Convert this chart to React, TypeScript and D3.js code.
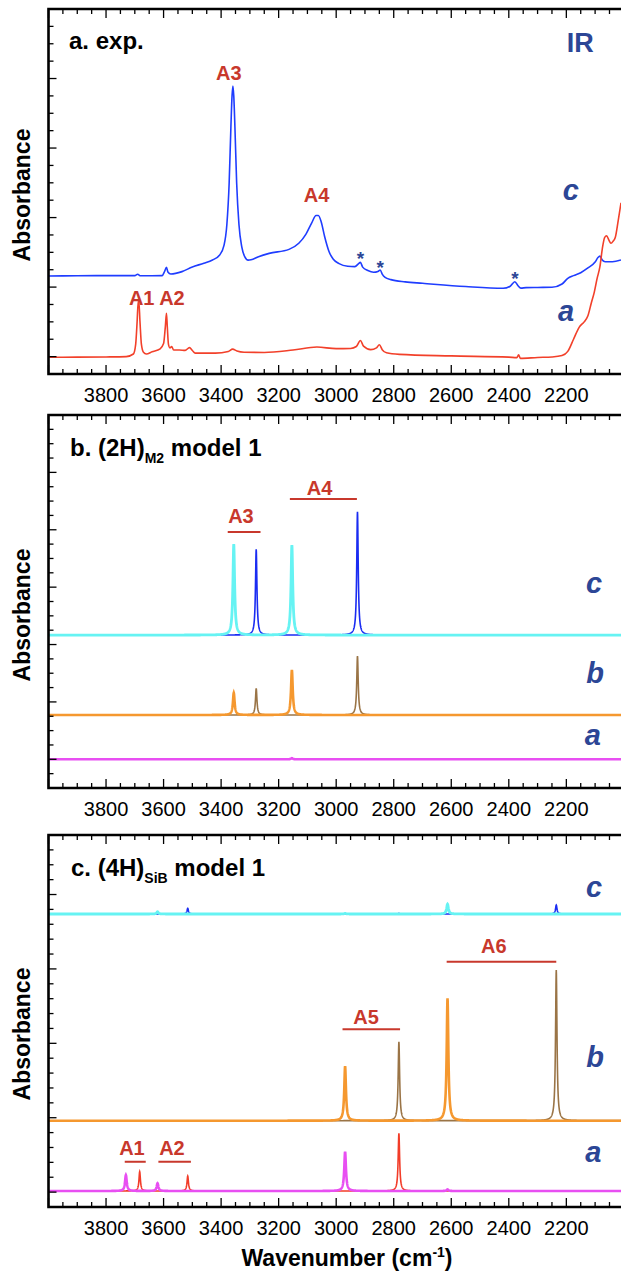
import React from "react";
import * as d3 from "d3";

const WIDTH = 621;
const HEIGHT = 1273;

// ---- x axis (wavenumber, cm-1) ----
const xMinorTicks = d3.range(4000, 2000, -50);
const xTickLabels = [3800, 3600, 3400, 3200, 3000, 2800, 2600, 2400, 2200];

// ---- Panel a: experimental IR spectra [wavenumber, absorbance] ----
const expC: [number, number][] = [
  [4000, 0.564], [3900, 0.565], [3800, 0.566], [3700, 0.566], [3690, 0.574], [3680, 0.565],
  [3605, 0.566], [3596, 0.592], [3590, 0.614], [3585, 0.587], [3575, 0.575], [3536, 0.589],
  [3500, 0.616], [3460, 0.637], [3430, 0.656], [3405, 0.685], [3390, 0.74], [3380, 0.86],
  [3372, 1.1], [3366, 1.42], [3362, 1.6], [3359, 1.657], [3356, 1.6], [3352, 1.42],
  [3346, 1.1], [3338, 0.86], [3328, 0.73], [3318, 0.675], [3306, 0.655], [3296, 0.657],
  [3270, 0.675], [3233, 0.694], [3164, 0.717], [3130, 0.752], [3105, 0.805], [3085, 0.87],
  [3070, 0.912], [3062, 0.912], [3052, 0.875], [3040, 0.79], [3025, 0.705], [3010, 0.66],
  [2990, 0.635], [2960, 0.62], [2935, 0.618], [2922, 0.635], [2916, 0.642], [2908, 0.615],
  [2890, 0.595], [2870, 0.585], [2855, 0.59], [2847, 0.598], [2840, 0.575], [2830, 0.556],
  [2810, 0.543], [2760, 0.53], [2700, 0.522], [2550, 0.503], [2420, 0.493], [2395, 0.505],
  [2379, 0.531], [2368, 0.508], [2358, 0.494], [2340, 0.497], [2300, 0.498], [2250, 0.499],
  [2215, 0.518], [2195, 0.55], [2175, 0.566], [2150, 0.583], [2125, 0.61], [2100, 0.644],
  [2090, 0.67], [2083, 0.678], [2075, 0.655], [2065, 0.646], [2040, 0.646], [2010, 0.656],
];

const expA: [number, number][] = [
  [4000, 0.096], [3900, 0.097], [3800, 0.098], [3730, 0.1], [3705, 0.115], [3697, 0.17],
  [3692, 0.3], [3688, 0.42], [3686, 0.42], [3682, 0.3], [3677, 0.17], [3670, 0.125],
  [3660, 0.115], [3640, 0.128], [3612, 0.145], [3600, 0.175], [3594, 0.27], [3590, 0.349],
  [3587, 0.27], [3583, 0.17], [3578, 0.15], [3572, 0.158], [3565, 0.138], [3545, 0.138],
  [3525, 0.136], [3510, 0.152], [3500, 0.135], [3490, 0.12], [3420, 0.12], [3375, 0.13],
  [3360, 0.143], [3345, 0.132], [3320, 0.125], [3250, 0.124], [3150, 0.138], [3067, 0.155],
  [3000, 0.146], [2950, 0.147], [2930, 0.158], [2916, 0.193], [2905, 0.16], [2880, 0.14],
  [2860, 0.15], [2850, 0.168], [2840, 0.14], [2825, 0.122], [2780, 0.113], [2600, 0.104],
  [2400, 0.097], [2372, 0.094], [2366, 0.11], [2360, 0.09], [2300, 0.095], [2250, 0.098],
  [2215, 0.106], [2195, 0.13], [2175, 0.2], [2155, 0.27], [2138, 0.3], [2125, 0.335],
  [2113, 0.41], [2103, 0.47], [2093, 0.55], [2083, 0.62], [2075, 0.72], [2067, 0.785],
  [2060, 0.795], [2052, 0.77], [2045, 0.752], [2037, 0.765], [2030, 0.785], [2020, 0.88],
  [2010, 0.985],
];

const starMarks: [number, number][] = [[2916, 0.685], [2847, 0.633], [2379, 0.57]];

// ---- Panel b: (2H)M2 model 1, computed peaks [wavenumber, height] ----
const bBaseC = 1.066;
const bBaseB = 0.509;
const bBaseA = 0.2;
const bCyanPeaks: [number, number][] = [[3356, 0.634], [3154, 0.627]];
const bBluePeaks: [number, number][] = [[3278, 0.598], [2926, 0.86]];
const bOrangePeaks: [number, number][] = [[3356, 0.155], [3154, 0.314]];
const bBrownPeaks: [number, number][] = [[3278, 0.186], [2926, 0.411]];
const bMagentaPeaks: [number, number][] = [[3154, 0.008]];

// ---- Panel c: (4H)SiB model 1, computed peaks [wavenumber, height] ----
const cBaseC = 1.969;
const cBaseB = 0.58;
const cBaseA = 0.1075;
const cCyanPeaks: [number, number][] = [[3621, 0.015], [2969, 0.004], [2613, 0.067]];
const cBluePeaks: [number, number][] = [[3516, 0.038], [2782, 0.004], [2235, 0.06]];
const cOrangePeaks: [number, number][] = [[2969, 0.367], [2613, 0.822]];
const cBrownPeaks: [number, number][] = [[2782, 0.53], [2235, 1.013]];
const cMagentaPeaks: [number, number][] = [[3731, 0.1075], [3621, 0.052], [2969, 0.264], [2613, 0.011]];
const cRedPeaks: [number, number][] = [[3683, 0.13], [3516, 0.1], [2782, 0.388]];

// ---- annotations [text, wavenumber, absorbance] ----
const aPeakLabels: [string, number, number][] = [
  ["A3", 3373, 1.692], ["A4", 3068, 0.99], ["A1", 3676, 0.397], ["A2", 3571, 0.397],
];
const aCurveLabels: [string, number, number][] = [["c", 2184, 1.001], ["a", 2201, 0.305]];

const bPeakLabels: [string, number, number][] = [["A3", 3331, 1.847], ["A4", 3058, 2.042]];
const bBars: [number, number, number][] = [[3377, 3263, 1.784], [3161, 2928, 2.014]];
const bCurveLabels: [string, number, number][] = [["c", 2104, 1.359], ["b", 2100, 0.732], ["a", 2108, 0.3]];

const cPeakLabels: [string, number, number][] = [
  ["A6", 2452, 1.707], ["A5", 2896, 1.23], ["A1", 3710, 0.349], ["A2", 3571, 0.349],
];
const cBars: [number, number, number][] = [
  [2616, 2235, 1.649], [2978, 2778, 1.194], [3735, 3662, 0.304], [3618, 3505, 0.304],
];
const cCurveLabels: [string, number, number][] = [["c", 2104, 2.083], ["b", 2100, 0.941], ["a", 2106, 0.302]];

const FONT = "'Liberation Sans', Arial, Helvetica, sans-serif";
const LABEL_RED = "#c8382c";
const NAVY = "#2c4696";

const grid = d3.range(4000, 2009.75, -0.5);
function broadened(base: number, peaks: [number, number][], gamma: number): [number, number][] {
  return grid.map((w) => [
    w,
    base + d3.sum(peaks, ([c, h]) => h / (1 + ((w - c) / gamma) ** 2)),
  ]);
}

type Panel = { top: number; bottom: number; yMax: number; majors: number[] };
const panels: Panel[] = [
  { top: 9, bottom: 374, yMax: 2.1, majors: [4, 8, 12, 16, 20] },
  { top: 415, bottom: 788, yMax: 2.6, majors: [4, 8, 12, 16, 20, 24] },
  { top: 835, bottom: 1207, yMax: 2.5, majors: [4, 9, 14, 19, 24] },
];

export default function App() {
  const x = d3.scaleLinear().domain([4000, 2010]).range([48.5, 621]);
  const ys = panels.map((p) => d3.scaleLinear().domain([0, p.yMax]).range([p.bottom, p.top]));

  const mkLine = (y: d3.ScaleLinear<number, number>, curve = d3.curveLinear) =>
    d3
      .line<[number, number]>()
      .x((d) => x(d[0]))
      .y((d) => y(d[1]))
      .curve(curve);

  const renderAxes = (p: Panel, i: number) => {
    const n = Math.round(p.yMax * 10);
    const y = ys[i];
    return (
      <g key={"ax" + i}>
        <path
          d={`M${WIDTH + 5},${p.top}H${x(4000)}V${p.bottom}H${WIDTH + 5}`}
          fill="none"
          stroke="#000"
          strokeWidth={2.6}
        />
        {xMinorTicks.map((t) => {
          const major = t % 200 === 0;
          const len = major ? 9 : 5;
          const xx = x(t);
          return (
            <g key={t}>
              <line x1={xx} x2={xx} y1={p.bottom} y2={p.bottom - len} stroke="#000" strokeWidth={1.3} />
              <line x1={xx} x2={xx} y1={p.top} y2={p.top + len} stroke="#000" strokeWidth={1.3} />
            </g>
          );
        })}
        {d3.range(1, n).map((k) => {
          const major = p.majors.includes(k);
          const yy = y(p.yMax - k * 0.1);
          return (
            <line key={k} x1={x(4000)} x2={x(4000) + (major ? 8 : 5)} y1={yy} y2={yy} stroke="#000" strokeWidth={1.3} />
          );
        })}
        {xTickLabels.map((t) => (
          <text key={t} x={x(t)} y={p.bottom + 28} textAnchor="middle" fontSize={20} fontFamily={FONT} fill="#000">
            {t}
          </text>
        ))}
      </g>
    );
  };

  const yA = ys[0];
  const yB = ys[1];
  const yC = ys[2];
  const lineA = mkLine(yA, d3.curveMonotoneX);
  const lineB = mkLine(yB);
  const lineC = mkLine(yC);

  const peakLabel = (arr: [string, number, number][], y: d3.ScaleLinear<number, number>, key: string) =>
    arr.map(([t, w, v], i) => (
      <text key={key + i} x={x(w)} y={y(v)} textAnchor="middle" fontSize={20} fontWeight="bold" fontFamily={FONT} fill={LABEL_RED}>
        {t}
      </text>
    ));
  const curveLabel = (arr: [string, number, number][], y: d3.ScaleLinear<number, number>, key: string) =>
    arr.map(([t, w, v], i) => (
      <text key={key + i} x={x(w)} y={y(v)} textAnchor="middle" fontSize={29} fontWeight="bold" fontStyle="italic" fontFamily={FONT} fill={NAVY}>
        {t}
      </text>
    ));
  const bars = (arr: [number, number, number][], y: d3.ScaleLinear<number, number>, key: string) =>
    arr.map(([w1, w2, v], i) => (
      <line key={key + i} x1={x(w1)} x2={x(w2)} y1={y(v)} y2={y(v)} stroke={LABEL_RED} strokeWidth={2} />
    ));

  return (
    <svg width={WIDTH} height={HEIGHT} style={{ position: "absolute", left: 0, top: 0, background: "#fff" }}>
      <defs>
        {panels.map((p, i) => (
          <clipPath id={"clip" + i} key={i}>
            <rect x={x(4000)} y={p.top} width={WIDTH - x(4000)} height={p.bottom - p.top} />
          </clipPath>
        ))}
      </defs>
      <rect width={WIDTH} height={HEIGHT} fill="#fff" />

      {/* Panel a */}
      <g clipPath="url(#clip0)">
        <path d={lineA(expC) || ""} fill="none" stroke="#1f3dff" strokeWidth={1.6} />
        <path d={lineA(expA) || ""} fill="none" stroke="#f2402a" strokeWidth={1.6} />
      </g>
      {starMarks.map(([w, v], i) => (
        <text key={"s" + i} x={x(w)} y={yA(v) + 10} textAnchor="middle" fontSize={19} fontWeight="bold" fontFamily={FONT} fill={NAVY}>
          *
        </text>
      ))}
      <text x={69} y={yA(1.87)} fontSize={24} fontWeight="bold" fontFamily={FONT} fill="#000">
        a. exp.
      </text>
      <text x={x(2152)} y={yA(1.853)} textAnchor="middle" fontSize={27} fontWeight="bold" fontFamily={FONT} fill={NAVY}>
        IR
      </text>
      {peakLabel(aPeakLabels, yA, "pa")}
      {curveLabel(aCurveLabels, yA, "ca")}

      {/* Panel b */}
      <g clipPath="url(#clip1)">
        <path d={lineB(broadened(bBaseA, bMagentaPeaks, 3.5)) || ""} fill="none" stroke="#e84ff2" strokeWidth={2.6} />
        <path d={lineB(broadened(bBaseB, bBrownPeaks, 3)) || ""} fill="none" stroke="#9a7446" strokeWidth={1.6} />
        <path d={lineB(broadened(bBaseB, bOrangePeaks, 3.5)) || ""} fill="none" stroke="#f5982f" strokeWidth={2.6} />
        <path d={lineB(broadened(bBaseC, bBluePeaks, 3)) || ""} fill="none" stroke="#1a2cf2" strokeWidth={1.6} />
        <path d={lineB(broadened(bBaseC, bCyanPeaks, 3.5)) || ""} fill="none" stroke="#66f3f3" strokeWidth={2.8} />
      </g>
      <text x={70} y={yB(2.314)} fontSize={24} fontWeight="bold" fontFamily={FONT} fill="#000">
        b. (2H)
        <tspan fontSize={14} dy={7}>M2</tspan>
        <tspan dy={-7}> model 1</tspan>
      </text>
      {peakLabel(bPeakLabels, yB, "pb")}
      {bars(bBars, yB, "bb")}
      {curveLabel(bCurveLabels, yB, "cb")}

      {/* Panel c */}
      <g clipPath="url(#clip2)">
        <path d={lineC(broadened(cBaseA, cRedPeaks, 3)) || ""} fill="none" stroke="#f23c28" strokeWidth={1.6} />
        <path d={lineC(broadened(cBaseA, cMagentaPeaks, 3.5)) || ""} fill="none" stroke="#e84ff2" strokeWidth={2.6} />
        <path d={lineC(broadened(cBaseB, cBrownPeaks, 3)) || ""} fill="none" stroke="#9a7446" strokeWidth={1.6} />
        <path d={lineC(broadened(cBaseB, cOrangePeaks, 3.5)) || ""} fill="none" stroke="#f5982f" strokeWidth={2.6} />
        <path d={lineC(broadened(cBaseC, cBluePeaks, 3)) || ""} fill="none" stroke="#1a2cf2" strokeWidth={1.6} />
        <path d={lineC(broadened(cBaseC, cCyanPeaks, 3.5)) || ""} fill="none" stroke="#66f3f3" strokeWidth={2.8} />
      </g>
      <text x={71} y={yC(2.224)} fontSize={24} fontWeight="bold" fontFamily={FONT} fill="#000">
        c. (4H)
        <tspan fontSize={14} dy={7}>SiB</tspan>
        <tspan dy={-7}> model 1</tspan>
      </text>
      {peakLabel(cPeakLabels, yC, "pc")}
      {bars(cBars, yC, "bc")}
      {curveLabel(cCurveLabels, yC, "cc")}

      {panels.map((p, i) => renderAxes(p, i))}

      {/* y-axis titles */}
      {[195, 615, 1034].map((cy, i) => (
        <text
          key={"yt" + i}
          transform={`translate(30,${cy}) rotate(-90)`}
          textAnchor="middle"
          fontSize={23}
          fontWeight="bold"
          fontFamily={FONT}
          fill="#000"
        >
          Absorbance
        </text>
      ))}

      {/* x-axis title */}
      <text x={347} y={1266} textAnchor="middle" fontSize={23} fontWeight="bold" fontFamily={FONT} fill="#000">
        Wavenumber (cm
        <tspan fontSize={14} dy={-9}>-1</tspan>
        <tspan dy={9}>)</tspan>
      </text>
    </svg>
  );
}
